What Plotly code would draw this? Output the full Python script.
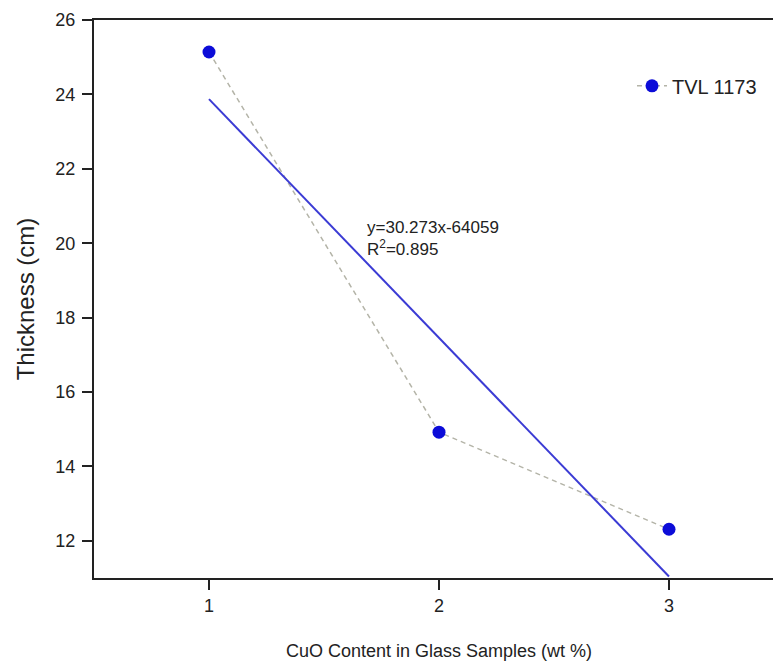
import numpy as np
import plotly.graph_objects as go

cuo_content = [1, 2, 3]
thickness = [25.14, 14.92, 12.31]
series_name = "TVL 1173"
eq_text = "y=30.273x-64059"
r2_text = "R<sup>2</sup>=0.895"

slope, intercept = np.polyfit(cuo_content, thickness, 1)
fit_x = [cuo_content[0], cuo_content[-1]]
fit_y = [slope * v + intercept for v in fit_x]

fig = go.Figure()
fig.add_trace(go.Scatter(
    x=cuo_content, y=thickness, mode="lines+markers", name=series_name,
    line=dict(color="#b4b4a8", width=1.5, dash="5px,4px"),
    marker=dict(color="#0c0cd8", size=13, symbol="circle"),
))
fig.add_trace(go.Scatter(
    x=fit_x, y=fit_y, mode="lines", showlegend=False,
    line=dict(color="#3b3bd4", width=2),
))

fig.add_annotation(x=(365 - 94) / 690, y=0.609, xref="paper", yref="paper",
                   text=eq_text + "<br>" + r2_text, showarrow=False,
                   xanchor="left", yanchor="middle", align="left",
                   font=dict(size=17, color="#222", family="Liberation Sans, Arial"))

fig.update_layout(
    width=784, height=669,
    margin=dict(l=94, r=0, t=20, b=91),
    plot_bgcolor="white", paper_bgcolor="white",
    font=dict(family="Liberation Sans, Arial", color="#222"),
    legend=dict(x=(632 - 94) / 690, y=0.882, xanchor="left", yanchor="middle",
                bgcolor="rgba(0,0,0,0)", font=dict(size=20, color="#222")),
    xaxis=dict(range=[0.5, 3.5], tickvals=[1, 2, 3], ticks="outside", ticklen=10,
               tickwidth=1.5, tickcolor="#222", showline=True, linecolor="#222",
               linewidth=2, mirror=True, showgrid=False, zeroline=False,
               tickfont=dict(size=18),
               title=dict(text="CuO Content in Glass Samples (wt %)",
                          font=dict(size=18), standoff=30)),
    yaxis=dict(range=[11, 26], tickvals=[12, 14, 16, 18, 20, 22, 24, 26],
               ticks="outside", ticklen=10, tickwidth=1.5, tickcolor="#222",
               showline=True, linecolor="#222", linewidth=2, showgrid=False,
               zeroline=False, tickfont=dict(size=18), ticklabelstandoff=3,
               title=dict(text="Thickness (cm)", font=dict(size=24), standoff=14)),
)

fig.write_html("out.html", config={"displayModeBar": False},
               post_script="document.body.style.margin='0';document.body.style.overflow='hidden';")
